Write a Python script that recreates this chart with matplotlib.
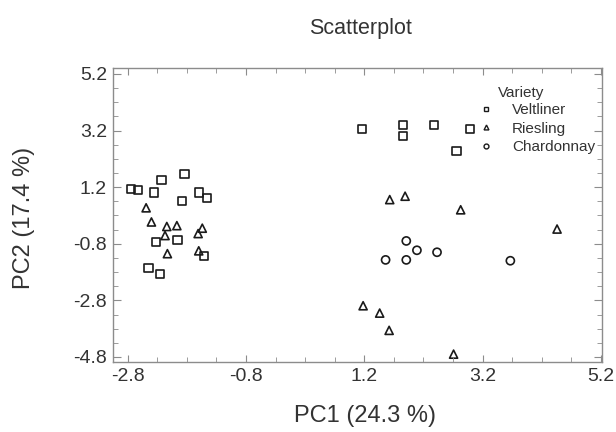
import matplotlib
matplotlib.use("Agg")
import matplotlib.pyplot as plt
from matplotlib.ticker import FixedLocator
from matplotlib.lines import Line2D

plt.rcParams['font.family'] = ['Liberation Sans', 'DejaVu Sans']

# Data
veltliner_x = [-2.74, -2.63, -2.23, -2.36, -1.84, -1.88, -1.60, -1.46, -2.33, -1.96, -1.51, -2.45, -2.26,
               1.16, 1.85, 1.85, 2.38, 2.98, 2.76]
veltliner_y = [1.14, 1.09, 1.46, 1.01, 1.68, 0.71, 1.01, 0.81, -0.75, -0.66, -1.24, -1.65, -1.88,
               3.24, 3.41, 3.01, 3.41, 3.24, 2.49]
riesling_x = [-2.49, -2.40, -2.14, -1.97, -2.17, -2.13, -1.54, -1.61, -1.60,
              1.63, 1.89, 2.83, 4.46, 1.18, 1.46, 1.62, 2.71]
riesling_y = [0.47, -0.03, -0.19, -0.16, -0.51, -1.15, -0.25, -0.44, -1.05,
              0.76, 0.88, 0.40, -0.28, -2.99, -3.25, -3.86, -4.70]
chardonnay_x = [1.91, 2.09, 2.43, 1.56, 1.91, 3.67]
chardonnay_y = [-0.70, -1.03, -1.10, -1.37, -1.37, -1.40]

series = ["Veltliner", "Riesling", "Chardonnay"]
x_ticks = [-2.8, -0.8, 1.2, 3.2, 5.2]
y_ticks = [-4.8, -2.8, -0.8, 1.2, 3.2, 5.2]

W, H = 616, 432
L, R, T, B = 113, 602, 68, 361.5
fig = plt.figure(figsize=(W / 100, H / 100), dpi=100)
ax = fig.add_axes([L / W, (H - B) / H, (R - L) / W, (B - T) / H])

mk = dict(s=34, facecolors='none', edgecolors='#1a1a1a', linewidths=1.2)
ax.scatter(veltliner_x, veltliner_y, marker='s', **mk)
ax.scatter(riesling_x, riesling_y, marker='^', **mk)
ax.scatter(chardonnay_x, chardonnay_y, marker='o', **mk)

ax.set_xlim(-3.05, 5.22)
ax.set_ylim(-4.96, 5.41)
ax.xaxis.set_major_locator(FixedLocator(x_ticks))
ax.yaxis.set_major_locator(FixedLocator(y_ticks))
ax.xaxis.set_minor_locator(FixedLocator([-2.8 + 0.5 * i for i in range(17)]))
ax.yaxis.set_minor_locator(FixedLocator([-4.8 + 0.5 * i for i in range(21)]))
ax.set_xticklabels([f"{v:.1f}" for v in x_ticks])
ax.set_yticklabels([f"{v:.1f}" for v in y_ticks])

tc = '#333333'
sc = '#8c8c8c'
for sp in ax.spines.values():
    sp.set_color(sc)
    sp.set_linewidth(1.0)
ax.tick_params(which='both', direction='in', top=True, right=True, colors=sc,
               labelcolor=tc, labelsize=14)
ax.tick_params(axis='x', which='major', length=5, pad=5)
ax.tick_params(axis='x', which='minor', length=3.5)
ax.tick_params(axis='y', which='major', length=6, pad=4.3)
ax.tick_params(axis='y', which='minor', length=3.5)

ax.set_xlabel("PC1 (24.3 %)", fontsize=17, color=tc)
ax.set_ylabel("PC2 (17.4 %)", fontsize=17, color=tc)
ax.xaxis.set_label_coords((364.5 - L) / (R - L), (B - 404.8) / (B - T))
ax.yaxis.set_label_coords((35 - L) / (R - L), (B - 217.5) / (B - T))
fig.text(360 / W, 1 - 34 / H, "Scatterplot", fontsize=15.5, color=tc, ha='center', va='baseline')

handles = [Line2D([], [], marker=m, linestyle='none', markersize=3.5, markerfacecolor='none',
                  markeredgecolor='#1a1a1a', markeredgewidth=1.0) for m in ['s', '^', 'o']]
leg = ax.legend(handles, series, loc='upper left', bbox_to_anchor=((480 - L) / (R - L), 1 - (103 - T) / (B - T)),
                frameon=False, fontsize=11, handlelength=0.8, handletextpad=1.3,
                labelspacing=0.3, borderaxespad=0, borderpad=0)
for t in leg.get_texts():
    t.set_color(tc)
ax.text((498 - L) / (R - L), 1 - (93 - T) / (B - T), "Variety", transform=ax.transAxes,
        fontsize=11, color=tc, ha='left', va='center')

fig.savefig("out.png", dpi=100)
